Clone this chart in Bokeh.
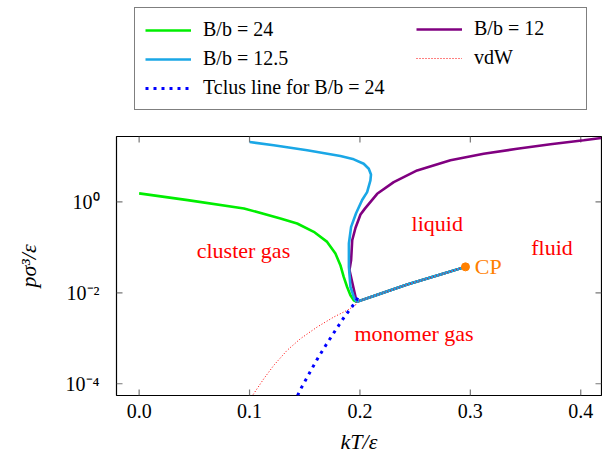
import math
from bokeh.plotting import figure
from bokeh.layouts import column
from bokeh.models import (Range1d, FixedTicker, Legend, LegendItem, ColumnDataSource)
from bokeh.core.properties import value
from bokeh.embed import file_html
from bokeh.resources import INLINE

# ---------------- data ----------------
# shared gas-liquid coexistence line (cusp -> critical point)
coex_T = [0.197, 0.2125, 0.2428, 0.2729, 0.2956]
coex_p = [0.00631, 0.00851, 0.01514, 0.02512, 0.03715]

# B/b = 24 (green), down to the cusp
g_T = [0.000, 0.044, 0.095, 0.128, 0.1431, 0.1582, 0.1703, 0.1778, 0.1823, 0.1853,
       0.1884, 0.1914, 0.1944]
g_p = [1.531, 1.089, 0.714, 0.431, 0.334, 0.219, 0.1315, 0.0729, 0.0404, 0.0223,
       0.0134, 0.00881, 0.00684]

# B/b = 12.5 (cyan), down to the cusp
c_T = [0.1002, 0.1219, 0.1522, 0.1823, 0.1944, 0.2034, 0.208, 0.2100, 0.2095, 0.2065,
       0.202, 0.1965, 0.192, 0.190, 0.190, 0.1914, 0.195]
c_p = [20.65, 17.46, 13.55, 10.16, 8.59, 6.87, 5.33, 3.98, 2.95, 1.637,
       1.096, 0.562, 0.282, 0.1213, 0.0372, 0.0134, 0.00745]

# B/b = 12 (purple), from the cusp upward
m_T = [0.197, 0.1905, 0.192, 0.193, 0.196, 0.2005, 0.2045, 0.2156, 0.2306, 0.2518,
       0.282, 0.3121, 0.3424, 0.3726, 0.4027, 0.4185]
m_p = [0.00631, 0.0316, 0.0525, 0.143, 0.269, 0.525, 0.708, 1.500, 2.716, 4.898,
       8.166, 11.40, 14.69, 18.37, 22.49, 25.29]

# van der Waals (red dotted), up to the cusp
v_T = [0.1033, 0.1129, 0.1219, 0.134, 0.1461, 0.1612, 0.1763, 0.1884, 0.196]
v_p = [5.81e-5, 1.288e-4, 2.53e-4, 5.42e-4, 9.79e-4, 1.766e-3, 2.93e-3, 4.12e-3, 5.31e-3]

# T_clus line for B/b = 24 (blue dotted)
t_T = [0.1435, 0.1461, 0.1536, 0.1612, 0.1694, 0.1778, 0.1862, 0.1953, 0.1996]
t_p = [5.5e-5, 7.48e-5, 1.603e-4, 3.43e-4, 7.23e-4, 1.493e-3, 3.03e-3, 5.96e-3, 8.91e-3]

# critical point
cp_T = [0.2956]
cp_p = [0.03715]

# region labels
lab_text = ["cluster gas", "liquid", "fluid", "monomer gas"]
lab_T = [0.0945, 0.270, 0.374, 0.249]
lab_p = [0.0863, 0.34, 0.1, 1.29e-3]

x_ticks = [0.0, 0.1, 0.2, 0.3, 0.4]
x_tick_labels = ["0.0", "0.1", "0.2", "0.3", "0.4"]
y_ticks = [1.0, 1e-2, 1e-4]
y_tick_labels = ["10\u2070", "10\u207b\u00b2", "10\u207b\u2074"]

legend_labels = ["B/b = 24", "B/b = 12", "B/b = 12.5", "vdW", "Tclus line for B/b = 24"]

X_MIN, X_MAX = -0.0205, 0.4188
Y_MIN, Y_MAX = 5.52e-5, 27.3

FONT = "Liberation Serif"
COL_G, COL_M, COL_C = "#00ee00", "#800080", "#1aa7e6"
LW = 2.6

# ---------------- main figure ----------------
p = figure(width=602, height=337, output_backend="svg", toolbar_location=None,
           x_axis_type="linear", y_axis_type="log",
           x_range=Range1d(X_MIN, X_MAX), y_range=Range1d(Y_MIN, Y_MAX),
           min_border_left=116, min_border_right=1, min_border_top=16, min_border_bottom=62,
           x_axis_label="kT/\u03b5", y_axis_label="p\u03c3\u00b3/\u03b5")
p.grid.visible = False
p.outline_line_color = "black"
p.outline_line_width = 1.2
p.background_fill_color = "white"
p.border_fill_color = "white"

def style_axis(ax):
    ax.axis_line_color = None
    ax.major_tick_in = 0
    ax.major_tick_out = 0
    ax.minor_tick_in = 0
    ax.minor_tick_out = 0
    ax.major_label_text_font = FONT
    ax.major_label_text_font_size = "20px"
    ax.major_label_text_color = "black"
    ax.axis_label_text_font = FONT
    ax.axis_label_text_font_size = "22px"
    ax.axis_label_text_font_style = "italic"
    ax.axis_label_text_color = "black"

xa = p.xaxis[0]
xa.ticker = FixedTicker(ticks=x_ticks)
xa.major_label_overrides = dict(zip(x_ticks, x_tick_labels))
style_axis(xa)
xa.major_label_standoff = 8
xa.axis_label_standoff = 8

ya = p.yaxis[0]
ya.ticker = FixedTicker(ticks=y_ticks)
ya.major_label_overrides = dict(zip(y_ticks, y_tick_labels))
style_axis(ya)
ya.major_label_standoff = 17
ya.axis_label_standoff = 22

# inward tick marks on all four sides of the frame (6 px long)
TICK = dict(length=6, length_units="screen", line_color="#777777", line_width=1.2)
p.ray(x=x_ticks, y=[Y_MIN] * len(x_ticks), angle=math.pi / 2, **TICK)
p.ray(x=x_ticks, y=[Y_MAX] * len(x_ticks), angle=-math.pi / 2, **TICK)
p.ray(x=[X_MIN] * len(y_ticks), y=y_ticks, angle=0, **TICK)
p.ray(x=[X_MAX] * len(y_ticks), y=y_ticks, angle=math.pi, **TICK)

p.line(g_T + coex_T, g_p + coex_p, line_color=COL_G, line_width=LW)
p.line(coex_T[::-1] + m_T, coex_p[::-1] + m_p, line_color=COL_M, line_width=LW)
p.line(c_T + coex_T, c_p + coex_p, line_color=COL_C, line_width=LW)
p.line(v_T + coex_T, v_p + coex_p, line_color="red", line_width=1, line_dash="1 2")
p.line(t_T, t_p, line_color="blue", line_width=3, line_dash="3 5")
p.scatter(cp_T, cp_p, size=8, color="#ff8000")
p.text(x=[cp_T[0] + 0.0085], y=cp_p, text=["CP"], text_font=value(FONT),
       text_font_size="22px", text_color="#ff8000", text_baseline="middle", text_align="left")

src = ColumnDataSource(dict(x=lab_T, y=lab_p, t=lab_text))
p.text(x="x", y="y", text="t", source=src, text_font=value(FONT), text_font_size="22px",
       text_color="red", text_align="center", text_baseline="middle")

# ---------------- legend strip (separate figure above) ----------------
# its ranges lie away from the data, so the key renderers only show in the legend
lf = figure(width=602, height=120, output_backend="svg", toolbar_location=None,
            x_range=Range1d(10, 11), y_range=Range1d(100, 101),
            x_axis_location=None, y_axis_location=None,
            min_border_left=0, min_border_right=0, min_border_top=0, min_border_bottom=0)
lf.grid.visible = False
lf.outline_line_color = None
lf.background_fill_color = "white"
lf.border_fill_color = "white"
k_g = lf.line(g_T, g_p, line_color=COL_G, line_width=LW)
k_m = lf.line(m_T, m_p, line_color=COL_M, line_width=LW)
k_c = lf.line(c_T, c_p, line_color=COL_C, line_width=LW)
k_v = lf.line(v_T, v_p, line_color="red", line_width=1, line_dash="1 2")
k_t = lf.line(t_T, t_p, line_color="blue", line_width=3, line_dash="3 5")

def style_legend(lg):
    lg.label_text_font = FONT
    lg.label_text_font_size = "20px"
    lg.label_text_color = "black"
    lg.glyph_width = 46
    lg.glyph_height = 20
    lg.label_height = 20
    lg.label_standoff = 12
    lg.spacing = 6
    lg.padding = 10
    lg.margin = 0

# left column (carries the box)
leg1 = Legend(items=[LegendItem(label=legend_labels[0], renderers=[k_g]),
                     LegendItem(label=legend_labels[2], renderers=[k_c]),
                     LegendItem(label=legend_labels[4], renderers=[k_t])],
              orientation="vertical", location=(18, 10))
style_legend(leg1)
leg1.label_width = 373
leg1.border_line_color = "black"
leg1.border_line_width = 1
leg1.background_fill_color = "white"
leg1.background_fill_alpha = 1
lf.add_layout(leg1, "center")

# right column (no box, aligned with the first two rows)
leg2 = Legend(items=[LegendItem(label=legend_labels[1], renderers=[k_m]),
                     LegendItem(label=legend_labels[3], renderers=[k_v])],
              orientation="vertical", location=(300, 51))
style_legend(leg2)
leg2.border_line_color = None
leg2.background_fill_alpha = 0
lf.add_layout(leg2, "center")

layout = column(lf, p, spacing=0)
open("out.html", "w").write(file_html(layout, INLINE))
